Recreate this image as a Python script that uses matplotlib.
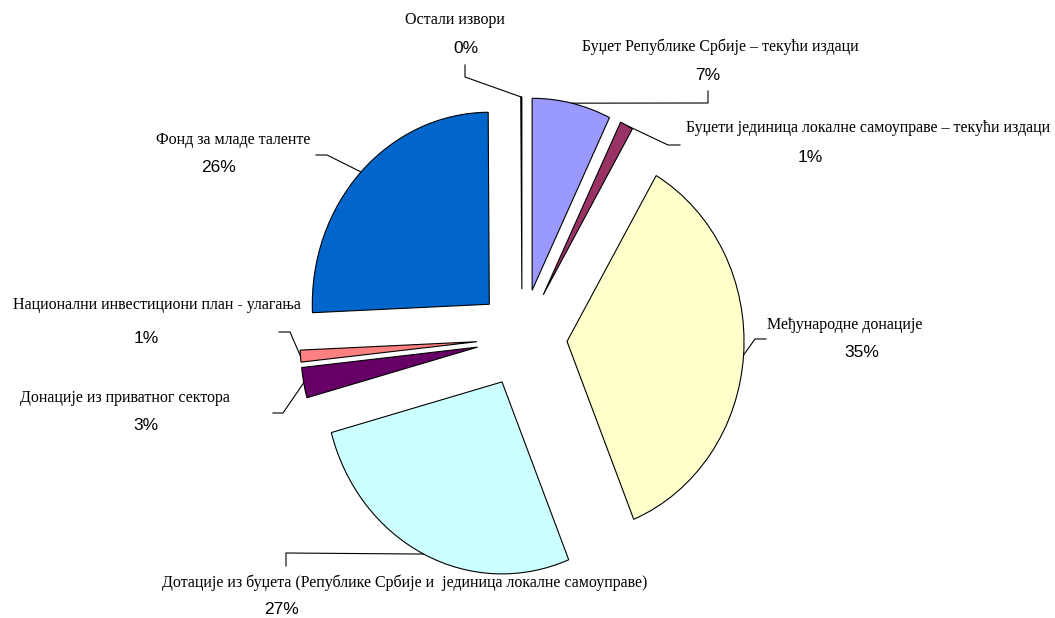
import numpy as np
import matplotlib.pyplot as plt

# slices, clockwise from 12 o'clock
names = [
    'Буџет Републике Србије – текући издаци',
    'Буџети јединица локалне самоуправе – текући издаци',
    'Међународне донације',
    'Дотације из буџета (Републике Србије и  јединица локалне самоуправе)',
    'Донације из приватног сектора',
    'Национални инвестициони план - улагања',
    'Фонд за младе таленте',
    'Остали извори',
]
shares = [7.2, 1.2, 35.45, 26.9, 2.55, 1.0, 25.6, 0.1]
colors = ['#9999FF', '#993366', '#FFFFCC', '#CCFFFF', '#660066', '#FF8080', '#0066CC', '#CCCCFF']

W, H = 1055, 618
CX, CY = 522, 338   # pie centre, pixels
RX, RY = 177, 192   # pie is a bit taller than wide

# label layout in pixels: name centre, percent centre, leader elbow, leader end
layout = [
    ((720, 47), (708, 75), (708, 103), (708, 91)),
    ((868, 128), (810, 157), (668, 145), (680, 145)),
    ((845, 325), (862, 352), (755, 339), (766, 339)),
    ((405, 583), (281, 610), (286, 553), (286, 566)),
    ((125, 398), (146, 425), (283, 413), (273, 413)),
    ((157, 305), (146, 338), (290, 332), (279, 332)),
    ((233, 140), (218, 167), (327, 155), (316, 155)),
    ((455, 20), (466, 48), (465, 77), (465, 65)),
]


def to_data(px, py):
    return (px - CX) / RX, (CY - py) / RY


fig = plt.figure(figsize=(W / 100, H / 100), dpi=100)
ax = fig.add_axes([0, 0, 1, 1])

wedges, _ = ax.pie(shares, colors=colors, startangle=90, counterclock=False,
                   explode=[0.255] * len(shares),
                   wedgeprops=dict(edgecolor='black', linewidth=0.8))

ax.set_aspect('auto')
x0, y1 = to_data(0, 0)
x1, y0 = to_data(W, H)
ax.set_xlim(x0, x1)
ax.set_ylim(y0, y1)
ax.axis('off')

for w, name, share, (npos, ppos, elbow, end) in zip(wedges, names, shares, layout):
    # leader starts at the middle of the wedge's arc
    ang = np.deg2rad((w.theta1 + w.theta2) / 2)
    sx = w.center[0] + w.r * np.cos(ang)
    sy = w.center[1] + w.r * np.sin(ang)
    ex, ey = to_data(*elbow)
    fx, fy = to_data(*end)
    ax.plot([sx, ex, fx], [sy, ey, fy], color='black', linewidth=0.8)

    tx, ty = to_data(*npos)
    ax.text(tx, ty, name, ha='center', va='center',
            family='Liberation Serif', fontsize=11.5)
    tx, ty = to_data(*ppos)
    ax.text(tx, ty, f'{share:.0f}%', ha='center', va='center',
            family='Liberation Sans', fontsize=12.5)

plt.savefig('out.png', dpi=100, facecolor='white')
